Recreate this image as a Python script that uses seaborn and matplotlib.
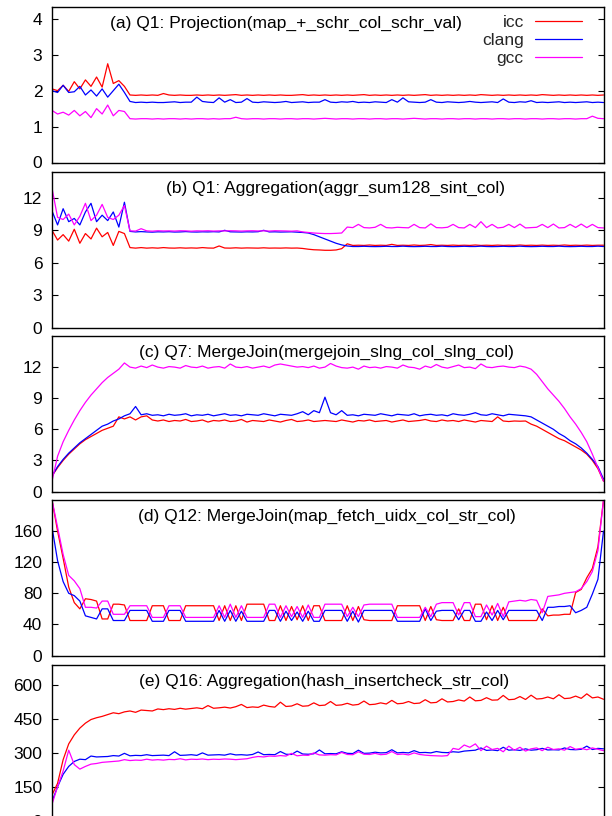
import numpy as np
import pandas as pd
import matplotlib
matplotlib.use("Agg")
import matplotlib.pyplot as plt
import seaborn as sns

# ---------------- data ----------------
compilers = ["icc", "clang", "gcc"]
palette = {"icc": "#ff0000", "clang": "#0000ff", "gcc": "#ff00ff"}

titles = [
    "(a) Q1: Projection(map_+_schr_col_schr_val)",
    "(b) Q1: Aggregation(aggr_sum128_sint_col)",
    "(c) Q7: MergeJoin(mergejoin_slng_col_slng_col)",
    "(d) Q12: MergeJoin(map_fetch_uidx_col_str_col)",
    "(e) Q16: Aggregation(hash_insertcheck_str_col)",
]
yticks_a = [0, 1, 2, 3, 4]
yticks_b = [0, 3, 6, 9, 12]
yticks_c = [0, 3, 6, 9, 12]
yticks_d = [0, 40, 80, 120, 160]
yticks_e = [0, 150, 300, 450, 600]
ylims = [4.33, 14.4, 15.0, 200.0, 690.0]

# panel (a)
a_icc = [2.05, 2.00, 2.15, 1.98, 2.25, 2.05, 2.30, 2.12, 2.38, 2.10,
         2.75, 2.20, 2.28, 2.12, 1.88, 1.87, 1.88, 1.87, 1.88, 1.87,
         1.92, 1.88, 1.87, 1.88, 1.87, 1.87, 1.88, 1.87, 1.88, 1.87,
         1.88, 1.87, 1.88, 1.89, 1.87, 1.88, 1.87, 1.88, 1.87, 1.88,
         1.87, 1.88, 1.87, 1.87, 1.88, 1.89, 1.87, 1.88, 1.87, 1.88,
         1.87, 1.88, 1.87, 1.88, 1.87, 1.88, 1.89, 1.87, 1.88, 1.87,
         1.88, 1.87, 1.88, 1.87, 1.88, 1.87, 1.88, 1.89, 1.87, 1.88,
         1.87, 1.88, 1.87, 1.88, 1.87, 1.88, 1.87, 1.89, 1.88, 1.87,
         1.88, 1.87, 1.88, 1.87, 1.88, 1.87, 1.88, 1.87, 1.89, 1.88,
         1.87, 1.88, 1.87, 1.88, 1.87, 1.88, 1.87, 1.88, 1.87, 1.88]
a_clang = [2.00, 1.95, 2.15, 1.95, 1.97, 2.12, 1.88, 2.02, 1.85, 2.05,
           1.82, 2.00, 2.18, 1.95, 1.70, 1.67, 1.68, 1.67, 1.68, 1.67,
           1.67, 1.68, 1.69, 1.67, 1.68, 1.68, 1.82, 1.70, 1.68, 1.67,
           1.80, 1.68, 1.75, 1.67, 1.68, 1.78, 1.68, 1.67, 1.69, 1.68,
           1.67, 1.68, 1.70, 1.67, 1.68, 1.69, 1.67, 1.68, 1.68, 1.75,
           1.68, 1.67, 1.69, 1.68, 1.70, 1.67, 1.68, 1.67, 1.69, 1.68,
           1.67, 1.75, 1.68, 1.80, 1.69, 1.68, 1.67, 1.68, 1.75, 1.68,
           1.67, 1.69, 1.68, 1.67, 1.68, 1.70, 1.68, 1.67, 1.68, 1.69,
           1.67, 1.77, 1.68, 1.67, 1.69, 1.68, 1.72, 1.67, 1.68, 1.67,
           1.68, 1.69, 1.67, 1.68, 1.67, 1.68, 1.69, 1.67, 1.68, 1.67]
a_gcc = [1.45, 1.35, 1.40, 1.32, 1.45, 1.30, 1.42, 1.25, 1.50, 1.35,
         1.60, 1.30, 1.45, 1.42, 1.22, 1.21, 1.22, 1.22, 1.21, 1.22,
         1.21, 1.22, 1.22, 1.21, 1.22, 1.21, 1.22, 1.22, 1.21, 1.22,
         1.21, 1.22, 1.22, 1.26, 1.22, 1.21, 1.22, 1.22, 1.21, 1.22,
         1.22, 1.21, 1.22, 1.22, 1.21, 1.22, 1.22, 1.21, 1.22, 1.23,
         1.22, 1.21, 1.22, 1.22, 1.21, 1.22, 1.22, 1.21, 1.22, 1.22,
         1.21, 1.22, 1.22, 1.21, 1.22, 1.23, 1.22, 1.21, 1.22, 1.22,
         1.21, 1.22, 1.22, 1.21, 1.22, 1.22, 1.21, 1.22, 1.22, 1.21,
         1.22, 1.22, 1.21, 1.22, 1.22, 1.21, 1.22, 1.22, 1.21, 1.22,
         1.22, 1.21, 1.22, 1.22, 1.21, 1.22, 1.22, 1.29, 1.23, 1.22]

# panel (b)
b_icc = [9.0, 8.1, 8.6, 8.0, 9.1, 7.8, 8.7, 8.2, 9.2, 8.4,
         8.8, 7.6, 8.9, 8.7, 7.4, 7.35, 7.4, 7.35, 7.38, 7.35,
         7.4, 7.36, 7.35, 7.38, 7.35, 7.37, 7.35, 7.4, 7.36, 7.35,
         7.55, 7.36, 7.35, 7.38, 7.35, 7.37, 7.36, 7.35, 7.38, 7.35,
         7.36, 7.35, 7.37, 7.35, 7.36, 7.32, 7.25, 7.2, 7.18, 7.15,
         7.15, 7.18, 7.3, 7.75, 7.6, 7.62, 7.6, 7.64, 7.6, 7.62,
         7.6, 7.7, 7.6, 7.62, 7.6, 7.64, 7.6, 7.62, 7.68, 7.6,
         7.62, 7.6, 7.63, 7.6, 7.62, 7.6, 7.64, 7.6, 7.62, 7.6,
         7.63, 7.6, 7.62, 7.6, 7.64, 7.6, 7.62, 7.6, 7.63, 7.6,
         7.62, 7.6, 7.64, 7.6, 7.62, 7.6, 7.63, 7.6, 7.62, 7.62]
b_clang = [10.8, 9.5, 11.0, 9.8, 10.1, 9.5, 10.7, 11.5, 9.8, 10.4,
           9.9, 10.7, 9.3, 11.6, 8.9, 8.85, 8.88, 8.85, 8.83, 8.86,
           8.85, 8.87, 8.84, 8.85, 8.88, 8.85, 8.84, 8.86, 8.85, 8.87,
           8.85, 9.0, 8.86, 8.85, 8.84, 8.86, 8.85, 8.87, 9.0, 8.85,
           8.86, 8.84, 8.85, 8.86, 8.83, 8.8, 8.75, 8.6, 8.4, 8.2,
           8.0, 7.8, 7.65, 7.55, 7.5, 7.5, 7.52, 7.5, 7.49, 7.5,
           7.52, 7.5, 7.5, 7.53, 7.5, 7.49, 7.5, 7.52, 7.5, 7.5,
           7.53, 7.5, 7.49, 7.5, 7.52, 7.5, 7.5, 7.53, 7.5, 7.49,
           7.5, 7.52, 7.5, 7.5, 7.53, 7.5, 7.49, 7.5, 7.52, 7.5,
           7.5, 7.53, 7.5, 7.49, 7.5, 7.52, 7.5, 7.5, 7.53, 7.5]
b_gcc = [12.9, 10.2, 10.0, 10.5, 9.5, 10.3, 11.5, 9.9, 10.4, 11.4,
         10.2, 10.0, 10.4, 11.3, 8.95, 8.93, 9.15, 8.95, 8.92, 8.96,
         8.94, 8.95, 8.93, 8.96, 8.95, 8.92, 8.95, 8.94, 8.96, 8.93,
         8.95, 8.94, 8.96, 8.95, 8.93, 8.95, 8.96, 8.94, 8.95, 8.93,
         8.96, 8.95, 8.94, 8.92, 8.95, 8.85, 8.8, 8.75, 8.72, 8.7,
         8.7, 8.72, 8.75, 9.3, 9.25, 9.55, 9.25, 9.22, 9.28, 9.55,
         9.25, 9.22, 9.28, 9.25, 9.23, 9.55, 9.25, 9.22, 9.6, 9.25,
         9.23, 9.28, 9.55, 9.25, 9.22, 9.55, 9.25, 9.8, 9.25, 9.55,
         9.22, 9.28, 9.55, 9.25, 9.58, 9.22, 9.25, 9.28, 9.55, 9.25,
         9.58, 9.22, 9.25, 9.55, 9.26, 9.58, 9.25, 9.55, 9.25, 9.22]

# panel (c)
c_icc = [1.5, 2.3, 3.0, 3.6, 4.1, 4.6, 5.0, 5.3, 5.6, 5.9,
         6.1, 6.3, 7.2, 7.0, 7.2, 6.9, 7.2, 7.3, 6.9, 6.8,
         6.9, 6.75, 6.85, 6.8, 6.95, 6.75, 6.8, 6.9, 6.7, 6.85,
         6.8, 6.9, 6.75, 6.8, 6.95, 6.7, 6.85, 6.8, 6.75, 6.9,
         6.8, 6.7, 6.85, 6.95, 6.75, 6.8, 6.9, 6.75, 6.8, 6.85,
         6.8, 6.75, 6.9, 6.8, 6.7, 6.85, 6.8, 6.9, 6.75, 6.8,
         6.85, 6.7, 6.8, 6.9, 6.75, 6.8, 6.85, 6.95, 6.8, 6.75,
         6.9, 6.8, 6.85, 6.75, 6.9, 6.8, 6.7, 6.85, 6.8, 6.75,
         7.2, 6.8, 6.75, 6.8, 6.78, 6.8, 6.5, 6.3, 6.0, 5.7,
         5.4, 5.1, 4.9, 4.6, 4.3, 4.0, 3.6, 3.0, 2.2, 1.0]
c_clang = [1.5, 2.4, 3.1, 3.7, 4.2, 4.7, 5.1, 5.5, 5.9, 6.3,
           6.5, 6.8, 7.0, 7.3, 7.5, 8.2, 7.4, 7.5, 7.35, 7.4,
           7.3, 7.45, 7.35, 7.4, 7.5, 7.3, 7.4, 7.35, 7.45, 7.3,
           7.4, 7.5, 7.35, 7.4, 7.3, 7.45, 7.4, 7.35, 7.5, 7.4,
           7.3, 7.45, 7.4, 7.35, 7.5, 7.7, 7.4, 7.8, 7.6, 9.1,
           7.6, 7.4, 7.8, 7.35, 7.4, 7.3, 7.45, 7.4, 7.35, 7.5,
           7.4, 7.3, 7.45, 7.4, 7.35, 7.5, 7.3, 7.4, 7.45, 7.35,
           7.4, 7.3, 7.5, 7.4, 7.35, 7.45, 7.6, 7.4, 7.35, 7.5,
           7.4, 7.3, 7.45, 7.4, 7.35, 7.3, 7.2, 6.9, 6.6, 6.3,
           6.0, 5.6, 5.3, 4.9, 4.6, 4.2, 3.7, 3.1, 2.4, 1.2]
c_gcc = [1.0, 3.4, 4.8, 5.9, 6.9, 7.8, 8.6, 9.3, 9.9, 10.5,
         11.0, 11.4, 11.8, 12.4, 12.0, 11.9, 12.1, 11.95, 12.2, 12.0,
         11.9, 12.05, 12.0, 11.9, 12.15, 12.0, 11.95, 12.1, 11.9, 12.0,
         12.05, 11.9, 12.3, 12.0, 11.95, 12.05, 11.9, 12.0, 12.1, 11.95,
         12.2, 12.3, 12.2, 12.1, 12.0, 12.05, 11.95, 12.1, 11.9, 12.0,
         12.35, 12.1, 11.95, 11.9, 12.0, 11.8, 12.1, 11.95, 12.0, 11.9,
         12.05, 12.0, 11.9, 12.2, 12.0, 11.95, 11.8, 12.1, 11.95, 12.25,
         12.0, 11.9, 12.05, 12.2, 11.95, 12.0, 11.85, 12.3, 12.0, 11.95,
         12.05, 12.1, 12.0, 11.95, 12.1, 12.0, 11.8, 11.3, 10.6, 9.9,
         9.3, 8.7, 8.0, 7.2, 6.5, 5.7, 4.8, 3.6, 2.3, 1.0]

# panel (d)
d_icc = [200, 160, 125, 88, 68, 60, 73, 72, 70, 47,
         47, 66, 66, 65, 45, 45, 45, 45, 64, 64,
         64, 45, 45, 45, 64, 64, 64, 64, 64, 64,
         45, 64, 45, 64, 45, 66, 66, 66, 66, 45,
         45, 64, 45, 63, 46, 64, 45, 64, 64, 45,
         45, 45, 45, 64, 45, 63, 46, 45, 45, 45,
         45, 45, 64, 64, 64, 64, 64, 45, 63, 46,
         45, 45, 45, 60, 45, 45, 66, 66, 46, 64,
         45, 62, 45, 45, 45, 45, 45, 45, 60, 51,
         52, 52, 53, 53, 81, 85, 100, 112, 140, 200]
d_clang = [165, 122, 95, 80, 77, 70, 51, 49, 47, 60,
           60, 45, 45, 45, 58, 58, 58, 58, 44, 44,
           44, 58, 58, 58, 44, 44, 44, 44, 44, 44,
           58, 44, 58, 44, 57, 44, 44, 44, 44, 58,
           58, 44, 57, 45, 56, 44, 57, 44, 44, 58,
           58, 58, 58, 44, 57, 43, 58, 58, 58, 58,
           58, 58, 44, 44, 44, 44, 44, 60, 45, 57,
           58, 58, 58, 46, 58, 58, 44, 44, 56, 45,
           58, 46, 58, 58, 58, 58, 58, 58, 45, 62,
           62, 63, 63, 64, 55, 58, 62, 79, 98, 160]
d_gcc = [200, 165, 130, 103, 96, 86, 62, 62, 61, 70,
         70, 53, 53, 53, 64, 64, 64, 64, 49, 49,
         49, 64, 64, 64, 49, 49, 49, 49, 49, 49,
         64, 49, 66, 49, 64, 49, 49, 49, 49, 66,
         66, 49, 64, 50, 63, 49, 65, 49, 49, 66,
         66, 66, 66, 50, 62, 50, 65, 66, 66, 66,
         66, 66, 49, 49, 49, 49, 49, 62, 50, 66,
         68, 68, 68, 52, 68, 68, 50, 50, 65, 52,
         67, 50, 69, 70, 71, 70, 72, 71, 55, 76,
         77, 78, 80, 81, 82, 86, 95, 108, 135, 200]

# panel (e)
e_icc = [113, 165, 270, 340, 380, 410, 432, 448, 456, 462,
         470, 478, 474, 482, 486, 480, 490, 488, 486, 495,
         492, 496, 493, 498, 494, 497, 500, 496, 510, 498,
         500, 503, 499, 505, 515, 501, 504, 502, 512, 506,
         503, 525, 506, 508, 518, 507, 509, 522, 510, 512,
         528, 511, 513, 520, 512, 515, 530, 514, 516, 522,
         517, 533, 518, 520, 528, 519, 521, 536, 522, 524,
         540, 526, 528, 535, 530, 548, 531, 533, 545, 534,
         535, 555, 536, 538, 550, 537, 556, 539, 541, 548,
         540, 558, 541, 543, 552, 542, 562, 544, 548, 538]
e_clang = [84, 150, 205, 240, 262, 272, 270, 286, 282, 283,
           284, 288, 286, 298, 287, 289, 288, 292, 288, 289,
           290, 288, 305, 289, 290, 292, 289, 300, 290, 291,
           292, 290, 296, 291, 292, 290, 293, 304, 292, 293,
           292, 306, 294, 293, 308, 295, 294, 296, 313, 296,
           297, 296, 305, 298, 297, 312, 298, 299, 303, 300,
           301, 314, 300, 302, 300, 310, 301, 302, 300, 306,
           302, 301, 305, 303, 308, 310, 312, 322, 311, 313,
           310, 325, 312, 314, 311, 318, 312, 314, 320, 313,
           314, 313, 322, 315, 314, 316, 330, 315, 320, 318]
e_gcc = [72, 150, 220, 312, 248, 228, 240, 250, 253, 258,
         260, 262, 264, 270, 266, 268, 267, 272, 268, 270,
         268, 271, 270, 274, 269, 272, 271, 273, 270, 272,
         271, 273, 272, 270, 272, 274, 280, 284, 282, 286,
         285, 288, 286, 298, 287, 290, 289, 300, 291, 290,
         292, 291, 302, 293, 292, 305, 294, 293, 298, 292,
         294, 306, 293, 295, 291, 300, 293, 290, 288, 287,
         286, 288, 320, 315, 335, 325, 340, 310, 330, 315,
         320, 305, 330, 312, 325, 308, 318, 322, 310, 325,
         315, 318, 312, 328, 316, 320, 314, 322, 316, 310]

panels = [
    (a_icc, a_clang, a_gcc, yticks_a),
    (b_icc, b_clang, b_gcc, yticks_b),
    (c_icc, c_clang, c_gcc, yticks_c),
    (d_icc, d_clang, d_gcc, yticks_d),
    (e_icc, e_clang, e_gcc, yticks_e),
]

# ---------------- style ----------------
sns.set_theme(style="ticks")
plt.rcParams["font.family"] = ["Liberation Sans", "DejaVu Sans"]
plt.rcParams["axes.linewidth"] = 1.0
plt.rcParams["axes.edgecolor"] = "black"

W, H = 612, 816
fig = plt.figure(figsize=(W / 100, H / 100), dpi=100)

left_px, right_px = 52, 603.5
tops = [7, 172, 336, 500, 665]
heights = 155.5
title_cx = [286, 336, 326, 327, 324]
FS = 12.5

for k, (icc, clang, gcc, yt) in enumerate(panels):
    top = tops[k]
    ax = fig.add_axes([left_px / W, 1 - (top + heights) / H,
                       (right_px - left_px) / W, heights / H])
    n = len(icc)
    df = pd.DataFrame({
        "x": list(range(n)) * 3,
        "v": icc + clang + gcc,
        "compiler": ["icc"] * n + ["clang"] * n + ["gcc"] * n,
    })
    sns.lineplot(data=df, x="x", y="v", hue="compiler", hue_order=compilers,
                 palette=palette, linewidth=0.9, ax=ax, legend=(k == 0),
                 estimator=None, sort=False)
    ax.set_xlim(0, n - 1)
    ax.set_ylim(0, ylims[k])
    ax.set_yticks(yt)
    ax.set_yticklabels([str(t) for t in yt])
    ax.set_xticks([])
    ax.set_xlabel("")
    ax.set_ylabel("")
    for s in ax.spines.values():
        s.set_visible(True)
        s.set_color("black")
        s.set_linewidth(1.0)
    ax.tick_params(axis="y", direction="in", length=4, width=0.8,
                   left=True, right=True, labelsize=FS, pad=7, colors="black")
    ax.tick_params(axis="y", labelcolor="black")
    ax.text((title_cx[k] - left_px) / (right_px - left_px), 1 - 16 / heights,
            titles[k], transform=ax.transAxes, ha="center", va="center",
            fontsize=FS, color="black")
    if k == 0:
        leg = ax.legend(loc="upper right",
                        bbox_to_anchor=((582 - left_px) / (right_px - left_px),
                                        1 - 8 / heights),
                        markerfirst=False, frameon=False, fontsize=FS,
                        handlelength=2.7, handletextpad=0.65,
                        labelspacing=0.17, borderaxespad=0, borderpad=0)
        for t in leg.get_texts():
            t.set_ha("right")

fig.savefig("out.png", dpi=100)
